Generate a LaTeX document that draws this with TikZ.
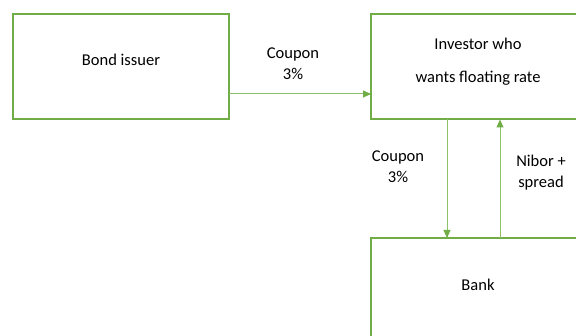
\documentclass[tikz,border=0pt]{standalone}
\usepackage{fontspec}
\setmainfont{Carlito}
\usetikzlibrary{arrows.meta}
\definecolor{boxgreen}{HTML}{70AD47}
\definecolor{arrgreen}{HTML}{8CC168}
\tikzset{
  entity/.style={draw=boxgreen, line width=2pt, rectangle, outer sep=0pt, inner sep=0pt},
  flow/.style={draw=arrgreen, line width=1pt, -{Triangle[length=8pt,width=7pt,color=boxgreen]}},
  lbl/.style={align=center, font=\fontsize{16.5}{21}\selectfont, inner sep=0pt},
  lblwide/.style={align=center, font=\fontsize{16.5}{33}\selectfont, inner sep=0pt}
}
\begin{document}
\begin{tikzpicture}[x=1pt,y=-1pt]
\useasboundingbox (0,0) rectangle (576,336);
\clip (0,0) rectangle (576,336);
\node[entity, minimum width=216pt, minimum height=105pt] (bond) at (121,66.5) {};
\node[entity, minimum width=214pt, minimum height=105pt] (inv) at (478,67) {};
\node[entity, minimum width=214pt, minimum height=105pt] (bank) at (478,290.5) {};
\node[lbl] (bondtxt) at (121,60) {Bond issuer};
\node[lblwide] (invtxt) at (478,61.5) {Investor who\\wants floating rate};
\node[lbl] (banktxt) at (478,285) {Bank};
\draw[flow] (bond.east |- 0,94) -- (inv.west |- 0,94);
\draw[flow] (inv.south -| 447,0) -- (bank.north -| 447,0);
\draw[flow] (bank.north -| 500,0) -- (inv.south -| 500,0);
\node[lbl] (c1) at (293,63.5) {Coupon\\3\%};
\node[lbl] (c2) at (398,166.5) {Coupon\\3\%};
\node[lbl] (nib) at (541,172.5) {Nibor +\\spread};
\end{tikzpicture}
\end{document}
